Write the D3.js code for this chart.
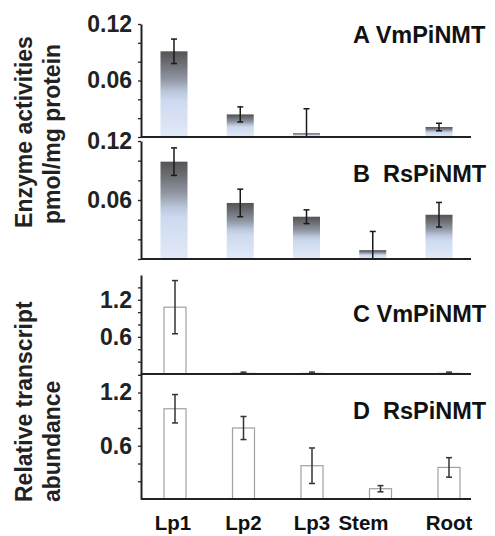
<!DOCTYPE html>
<html>
<head>
<meta charset="utf-8">
<script src="https://cdn.jsdelivr.net/npm/d3@7"></script>
<style>
  body { margin: 0; background: #fff; }
  svg { display: block; font-family: "Liberation Sans", Arial, sans-serif; font-weight: bold; }
</style>
</head>
<body>
<div id="chart"></div>
<script>
// tissues on the x axis
const tissues = ['Lp1', 'Lp2', 'Lp3', 'Stem', 'Root'];

// enzyme activities (pmol/mg protein)
const vmActivity = [0.091, 0.024, 0.004, 0, 0.0106];
const vmActivityErr = [0.013, 0.008, 0.026, 0, 0.004];
const rsActivity = [0.099, 0.057, 0.043, 0.009, 0.045];
const rsActivityErr = [0.014, 0.014, 0.007, 0.019, 0.0125];

// relative transcript abundance
const vmTranscript = [1.08, 0.01, 0.01, 0, 0.01];
const vmTranscriptErr = [0.43, 0.02, 0.02, 0, 0.02];
const rsTranscript = [1.017, 0.80, 0.375, 0.116, 0.356];
const rsTranscriptErr = [0.16, 0.13, 0.2, 0.035, 0.11];

const activityTicks = [0, 0.02, 0.04, 0.06, 0.08, 0.1, 0.12];
const activityLabels = [0.06, 0.12];
const transcriptTicks = [0.2, 0.4, 0.6, 0.8, 1.0, 1.2, 1.4];
const transcriptLabels = [0.6, 1.2];

const width = 495, height = 536;
const axisLeft = 141, axisRight = 471;

const svg = d3.select('#chart').append('svg')
    .attr('width', width)
    .attr('height', height);

// banded gray -> light blue fill used for the enzyme bars
const grad = svg.append('defs').append('linearGradient')
    .attr('id', 'barGrad')
    .attr('x1', 0).attr('y1', 0).attr('x2', 0).attr('y2', 1);
[[0, '#545457'], [0.12, '#68696e'], [0.32, '#8f95a1'], [0.47, '#bac6db'],
 [0.58, '#cddaef'], [1, '#e2eaf8']].forEach(s => {
    grad.append('stop').attr('offset', s[0]).attr('stop-color', s[1]);
});

// x scales: the enzyme panels and the transcript panels are spaced a bit differently
const xTop = d3.scalePoint().domain(tissues).range([174, 439]);
const xBottom = d3.scalePoint().domain(tissues).range([175, 449]);

function drawPanel(opts) {
    const g = svg.append('g');
    const y = d3.scaleLinear().domain(opts.domain).range(opts.range);
    const x = opts.x;
    const data = tissues.map((t, i) => ({ t, v: opts.values[i], e: opts.errors[i] }));

    // bars
    g.selectAll('rect.bar')
        .data(data.filter(d => d.v > 0))
        .enter().append('rect')
        .attr('class', 'bar')
        .attr('x', d => x(d.t) - opts.barWidth / 2)
        .attr('width', opts.barWidth)
        .attr('y', d => y(d.v))
        .attr('height', d => y(0) - y(d.v))
        .attr('fill', opts.fill)
        .attr('stroke', opts.stroke)
        .attr('stroke-width', opts.stroke === 'none' ? 0 : 1.2);

    // error bars, lower end clipped at zero
    const err = g.selectAll('g.err')
        .data(data.filter(d => d.e > 0))
        .enter().append('g')
        .attr('class', 'err')
        .attr('stroke', opts.errColor)
        .attr('stroke-width', 1.5);
    err.append('line')
        .attr('x1', d => x(d.t)).attr('x2', d => x(d.t))
        .attr('y1', d => y(d.v + d.e))
        .attr('y2', d => y(Math.max(0, d.v - d.e)));
    err.append('line')
        .attr('x1', d => x(d.t) - 3).attr('x2', d => x(d.t) + 3)
        .attr('y1', d => y(d.v + d.e)).attr('y2', d => y(d.v + d.e));
    err.filter(d => d.v - d.e > 0).append('line')
        .attr('x1', d => x(d.t) - 3).attr('x2', d => x(d.t) + 3)
        .attr('y1', d => y(d.v - d.e)).attr('y2', d => y(d.v - d.e));

    // y axis
    const yAxis = d3.axisLeft(y)
        .tickValues(opts.ticks)
        .tickSize(3)
        .tickSizeOuter(0)
        .tickFormat(d => opts.labels.includes(d) ? d3.format(opts.fmt)(d) : '');
    const ya = g.append('g')
        .attr('transform', `translate(${axisLeft},0)`)
        .call(yAxis);
    ya.select('.domain').attr('stroke', '#222').attr('stroke-width', 2);
    ya.selectAll('.tick line').attr('stroke', '#222').attr('stroke-width', 1.3);
    ya.selectAll('.tick text')
        .attr('x', -9)
        .attr('fill', '#222')
        .style('font-size', '23px')
        .style('font-weight', 'bold');

    // baseline
    g.append('line')
        .attr('x1', axisLeft).attr('x2', axisRight)
        .attr('y1', y(0)).attr('y2', y(0))
        .attr('stroke', '#222')
        .attr('stroke-width', 2);

    // panel title
    g.append('text')
        .attr('x', 353)
        .attr('y', opts.titleY)
        .attr('fill', '#111')
        .style('font-size', '23.5px')
        .style('white-space', 'pre')
        .text(opts.title);
}

drawPanel({
    title: 'A VmPiNMT', titleY: 43,
    values: vmActivity, errors: vmActivityErr,
    domain: [0, 0.12], range: [137, 24],
    ticks: activityTicks, labels: activityLabels, fmt: '.2f',
    x: xTop, barWidth: 27, fill: 'url(#barGrad)', stroke: 'none', errColor: '#1a1a1a'
});
drawPanel({
    title: 'B  RsPiNMT', titleY: 182,
    values: rsActivity, errors: rsActivityErr,
    domain: [0, 0.12], range: [259, 141],
    ticks: activityTicks, labels: activityLabels, fmt: '.2f',
    x: xTop, barWidth: 27, fill: 'url(#barGrad)', stroke: 'none', errColor: '#1a1a1a'
});
drawPanel({
    title: 'C VmPiNMT', titleY: 322,
    values: vmTranscript, errors: vmTranscriptErr,
    domain: [0, 1.6], range: [374, 275],
    ticks: transcriptTicks, labels: transcriptLabels, fmt: '.1f',
    x: xBottom, barWidth: 22, fill: '#fff', stroke: '#a0a0a0', errColor: '#333'
});
drawPanel({
    title: 'D  RsPiNMT', titleY: 419,
    values: rsTranscript, errors: rsTranscriptErr,
    domain: [0, 1.42], range: [499, 373],
    ticks: transcriptTicks, labels: transcriptLabels, fmt: '.1f',
    x: xBottom, barWidth: 22, fill: '#fff', stroke: '#a0a0a0', errColor: '#333'
});

// tissue labels under the last panel
svg.append('g').selectAll('text')
    .data(tissues)
    .enter().append('text')
    .attr('x', d => xBottom(d))
    .attr('dx', d => d === 'Stem' ? -17 : (d === 'Lp1' ? -2 : 0))
    .attr('y', 530)
    .attr('text-anchor', 'middle')
    .attr('fill', '#111')
    .style('font-size', '20.5px')
    .text(d => d);

// rotated y titles
function yTitle(text, x, y, anchor) {
    svg.append('text')
        .attr('transform', `translate(${x},${y}) rotate(-90)`)
        .attr('text-anchor', anchor)
        .attr('fill', '#222')
        .style('font-size', '23px')
        .text(text);
}
yTitle('Enzyme activities', 32, 132, 'middle');
yTitle('pmol/mg protein', 60, 134, 'middle');
yTitle('Relative transcript', 32, 502, 'start');
yTitle('abundance', 60, 502, 'start');
</script>
</body>
</html>
